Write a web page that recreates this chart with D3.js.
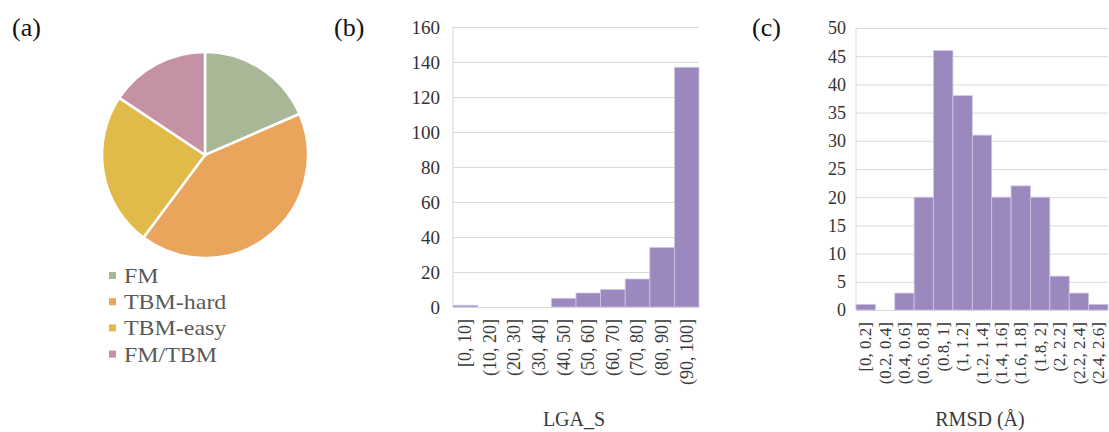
<!DOCTYPE html>
<html>
<head>
<meta charset="utf-8">
<script src="https://cdn.jsdelivr.net/npm/d3@7"></script>
<style>
  body { margin: 0; background: #fff; }
  svg, svg text { font-family: "Times New Roman", "Liberation Serif", Tinos, serif; }
</style>
</head>
<body>
<div id="wrapper"></div>
<script>
// (a) pie
const pieCategories = ["FM", "TBM-hard", "TBM-easy", "FM/TBM"]
const pieCounts = [39, 88, 51, 33]
const pieColors = ["#a8b795", "#e8a55b", "#e0bb4a", "#c592a5"]

// (b) LGA_S histogram
const lgaBins = ["[0, 10]", "(10, 20]", "(20, 30]", "(30, 40]", "(40, 50]", "(50, 60]", "(60, 70]", "(70, 80]", "(80, 90]", "(90, 100]"]
const lgaCounts = [1, 0, 0, 0, 5, 8, 10, 16, 34, 137]
const lgaTicks = [0, 20, 40, 60, 80, 100, 120, 140, 160]

// (c) RMSD histogram
const rmsdBins = ["[0, 0.2]", "(0.2, 0.4]", "(0.4, 0.6]", "(0.6, 0.8]", "(0.8, 1]", "(1, 1.2]", "(1.2, 1.4]", "(1.4, 1.6]", "(1.6, 1.8]", "(1.8, 2]", "(2, 2.2]", "(2.2, 2.4]", "(2.4, 2.6]"]
const rmsdCounts = [1, 0, 3, 20, 46, 38, 31, 20, 22, 20, 6, 3, 1]
const rmsdTicks = [0, 5, 10, 15, 20, 25, 30, 35, 40, 45, 50]

const width = 1109, height = 432
const svg = d3.select("#wrapper").append("svg")
    .attr("width", width)
    .attr("height", height)

// panel letters
const letters = [["(a)", 12], ["(b)", 334], ["(c)", 752]]
svg.selectAll("text.letter")
    .data(letters)
    .enter().append("text")
    .attr("class", "letter")
    .attr("x", d => d[1])
    .attr("y", 36)
    .attr("font-size", 26)
    .attr("fill", "#111")
    .text(d => d[0])

// ---- pie ----
const pie = d3.pie().sort(null)(pieCounts)
const arc = d3.arc().innerRadius(0).outerRadius(103)
svg.append("g")
    .attr("transform", "translate(205,155)")
    .selectAll("path")
    .data(pie)
    .enter().append("path")
    .attr("d", arc)
    .attr("fill", (d, i) => pieColors[i])
    .attr("stroke", "#fff")
    .attr("stroke-width", 2.5)

const legendRows = svg.append("g").selectAll("g")
    .data(pieCategories)
    .enter().append("g")
    .attr("transform", (d, i) => `translate(109, ${283 + i * 26.2})`)
legendRows.append("rect")
    .attr("x", 0).attr("y", -11)
    .attr("width", 7).attr("height", 7)
    .attr("fill", (d, i) => pieColors[i])
legendRows.append("text")
    .attr("transform", "translate(15,0) scale(1.14,1)")
    .attr("font-size", 21)
    .attr("fill", "#595959")
    .text(d => d)

// ---- histogram helper ----
function drawHist(opts) {
    const g = svg.append("g")
    const x = d3.scaleBand().domain(opts.bins).range([opts.left, opts.right]).padding(0)
    const y = d3.scaleLinear().domain([0, opts.max]).range([opts.bottom, opts.top])

    // gridlines
    g.append("g")
        .attr("transform", `translate(${opts.left},0)`)
        .call(d3.axisLeft(y).tickValues(opts.ticks).tickSize(-(opts.right - opts.left)).tickFormat(""))
        .call(a => a.select(".domain").remove())
        .selectAll("line").attr("stroke", "#d9d9d9").attr("stroke-width", 1)

    g.append("line")
        .attr("x1", opts.left).attr("x2", opts.left)
        .attr("y1", opts.top).attr("y2", opts.bottom)
        .attr("stroke", "#d9d9d9")

    // tick labels
    g.selectAll("text.ytick")
        .data(opts.ticks)
        .enter().append("text")
        .attr("class", "ytick")
        .attr("x", opts.left - opts.labelGap)
        .attr("y", d => y(d))
        .attr("dy", "0.35em")
        .attr("text-anchor", "end")
        .attr("font-size", opts.yFont)
        .attr("fill", "#333")
        .text(d => d)

    // bars
    g.selectAll("rect.bar")
        .data(opts.counts)
        .enter().append("rect")
        .attr("class", "bar")
        .attr("x", (d, i) => x(opts.bins[i]))
        .attr("y", d => y(d))
        .attr("width", x.bandwidth())
        .attr("height", d => y(0) - y(d))
        .attr("fill", "#9a88bf")
        .attr("stroke", "#cfc6e3")
        .attr("stroke-width", 0.8)

    // x labels rotated
    g.selectAll("text.xlab")
        .data(opts.bins)
        .enter().append("text")
        .attr("class", "xlab")
        .attr("transform", d => `translate(${x(d) + x.bandwidth() / 2}, ${opts.xLabTop}) rotate(-90)`)
        .attr("dy", "0.33em")
        .attr("text-anchor", "end")
        .attr("font-size", opts.xFont)
        .attr("fill", "#3a3a3a")
        .text(d => d)

    g.append("text")
        .attr("x", (opts.left + opts.right) / 2 - 2)
        .attr("y", 426)
        .attr("text-anchor", "middle")
        .attr("font-size", 20)
        .attr("fill", "#3a3a3a")
        .text(opts.title)
}

drawHist({
    bins: lgaBins, counts: lgaCounts, ticks: lgaTicks, max: 160,
    left: 453, right: 699, top: 27, bottom: 307,
    labelGap: 13, yFont: 19, xFont: 18, xLabTop: 319, title: "LGA_S"
})

drawHist({
    bins: rmsdBins, counts: rmsdCounts, ticks: rmsdTicks, max: 50,
    left: 856, right: 1108, top: 28, bottom: 310,
    labelGap: 10, yFont: 18, xFont: 17, xLabTop: 322, title: "RMSD (Å)"
})
</script>
</body>
</html>
